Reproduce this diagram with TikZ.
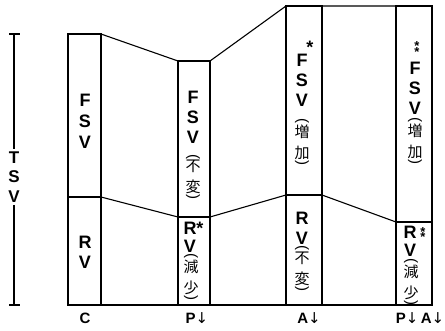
\documentclass[tikz,border=0pt]{standalone}
\usepackage{fontspec}
\setmainfont{Liberation Sans}
\newfontfamily\cjk{Noto Sans CJK JP}
\newfontfamily\arrfont{DejaVu Sans}
\newcommand\dnarr{{\arrfont\mdseries ↓}}
\newcommand\oparc{{\normalfont\fontsize{15}{15}\selectfont\rotatebox{-90}{(}}}
\newcommand\clarc{{\normalfont\fontsize{15}{15}\selectfont\rotatebox{-90}{)}}}
\newcommand\vjp[2]{\vbox{\offinterlineskip
  \hbox to 18pt{\hss\oparc\hss}\kern1.2pt
  \hbox to 18pt{\hss#1\hss}\kern7pt
  \hbox to 18pt{\hss#2\hss}\kern1pt
  \hbox to 18pt{\hss\clarc\hss}}}
\newcommand\dstar{\vbox{\offinterlineskip
  \hbox to 8pt{\hss*\hss}\kern-3.6pt
  \hbox to 8pt{\hss*\hss}}}
\begin{document}
\begin{tikzpicture}[x=1pt,y=-1pt,line width=1.1pt,
  lat/.style={font=\bfseries\fontsize{18}{20}\selectfont,inner sep=0pt,align=center},
  jp/.style={font=\cjk\fontsize{15}{22}\selectfont,inner sep=0pt},
  bot/.style={font=\bfseries\fontsize{15}{16}\selectfont,inner sep=0pt},
  star/.style={font=\bfseries\fontsize{13}{14}\selectfont,inner sep=0pt}]
\useasboundingbox (0,0) rectangle (445,330);
% corner coordinates
\coordinate (c1tl) at (68,34);  \coordinate (c1tr) at (101,34);
\coordinate (c1ml) at (68,197); \coordinate (c1mr) at (101,197);
\coordinate (c1bl) at (68,305); \coordinate (c1br) at (101,305);
\coordinate (c2tl) at (178,61);  \coordinate (c2tr) at (210,61);
\coordinate (c2ml) at (178,217); \coordinate (c2mr) at (210,217);
\coordinate (c2bl) at (178,305); \coordinate (c2br) at (210,305);
\coordinate (c3tl) at (286,6);   \coordinate (c3tr) at (322,6);
\coordinate (c3ml) at (286,195); \coordinate (c3mr) at (322,195);
\coordinate (c3bl) at (286,305); \coordinate (c3br) at (322,305);
\coordinate (c4tl) at (396,6);   \coordinate (c4tr) at (432,6);
\coordinate (c4ml) at (396,222); \coordinate (c4mr) at (432,222);
\coordinate (c4bl) at (396,305); \coordinate (c4br) at (432,305);
% columns
\foreach \c in {1,2,3,4}{
  \draw (c\c tl) rectangle (c\c br);
  \draw (c\c ml) -- (c\c mr);
}
% connectors
\draw (c1tr) -- (c2tl) (c2tr) -- (c3tl) (c3tr) -- (c4tl);
\draw (c1mr) -- (c2ml) (c2mr) -- (c3ml) (c3mr) -- (c4ml);
\draw (c1br) -- (c2bl) (c2br) -- (c3bl) (c3br) -- (c4bl);
% TSV scale
\coordinate (tt1) at (9,34);  \coordinate (tt2) at (20,34);
\coordinate (tb1) at (9,305); \coordinate (tb2) at (20,305);
\coordinate (ttop) at (14,34); \coordinate (tbot) at (14,305);
\node[lat,font=\bfseries\fontsize{17}{19.5}\selectfont,inner ysep=2pt] (tsv) at (14,177) {T\\S\\V};
\draw (tt1) -- (tt2) (tb1) -- (tb2);
\draw (ttop) -- (tsv.north) (tsv.south) -- (tbot);
% column 1
\node[lat,font=\bfseries\fontsize{18}{21}\selectfont] (f1) at (85,121) {F\\S\\V};
\node[lat] (r1) at (85,252) {R\\V};
% column 2
\node[lat] (f2) at (193,117) {F\\S\\V};
\node[jp] (j2a) at (193,177) {\vjp{不}{変}};
\node[lat,font=\bfseries\fontsize{18}{18}\selectfont] (r2) at (190,237) {R\rlap{*}\\V};
\node[jp] (j2b) at (191,277) {\vjp{減}{少}};
% column 3
\node[lat,anchor=base] (s3) at (310,53) {*};
\node[lat] (f3) at (302,80) {F\\S\\V};
\node[jp] (j3a) at (302,142) {\vjp{増}{加}};
\node[lat] (r3) at (302,228) {R\\V};
\node[jp] (j3b) at (302,268.5) {\vjp{不}{変}};
% column 4
\node[star] (s4a) at (417,49) {\dstar};
\node[lat] (f4) at (415,88) {F\\S\\V};
\node[jp] (j4a) at (415,141) {\vjp{増}{加}};
\node[lat,font=\bfseries\fontsize{18}{18}\selectfont] (r4) at (410,241) {R\\V};
\node[star] (s4b) at (423,234.5) {\dstar};
\node[jp] (j4b) at (411,282) {\vjp{減}{少}};
% bottom labels
\node[bot] (lc) at (85,318) {C};
\node[bot] (lp) at (197,318) {P\dnarr};
\node[bot] (la) at (309,318) {A\dnarr};
\node[bot] (lpa) at (420,318) {P\dnarr\,A\dnarr};
\end{tikzpicture}
\end{document}
